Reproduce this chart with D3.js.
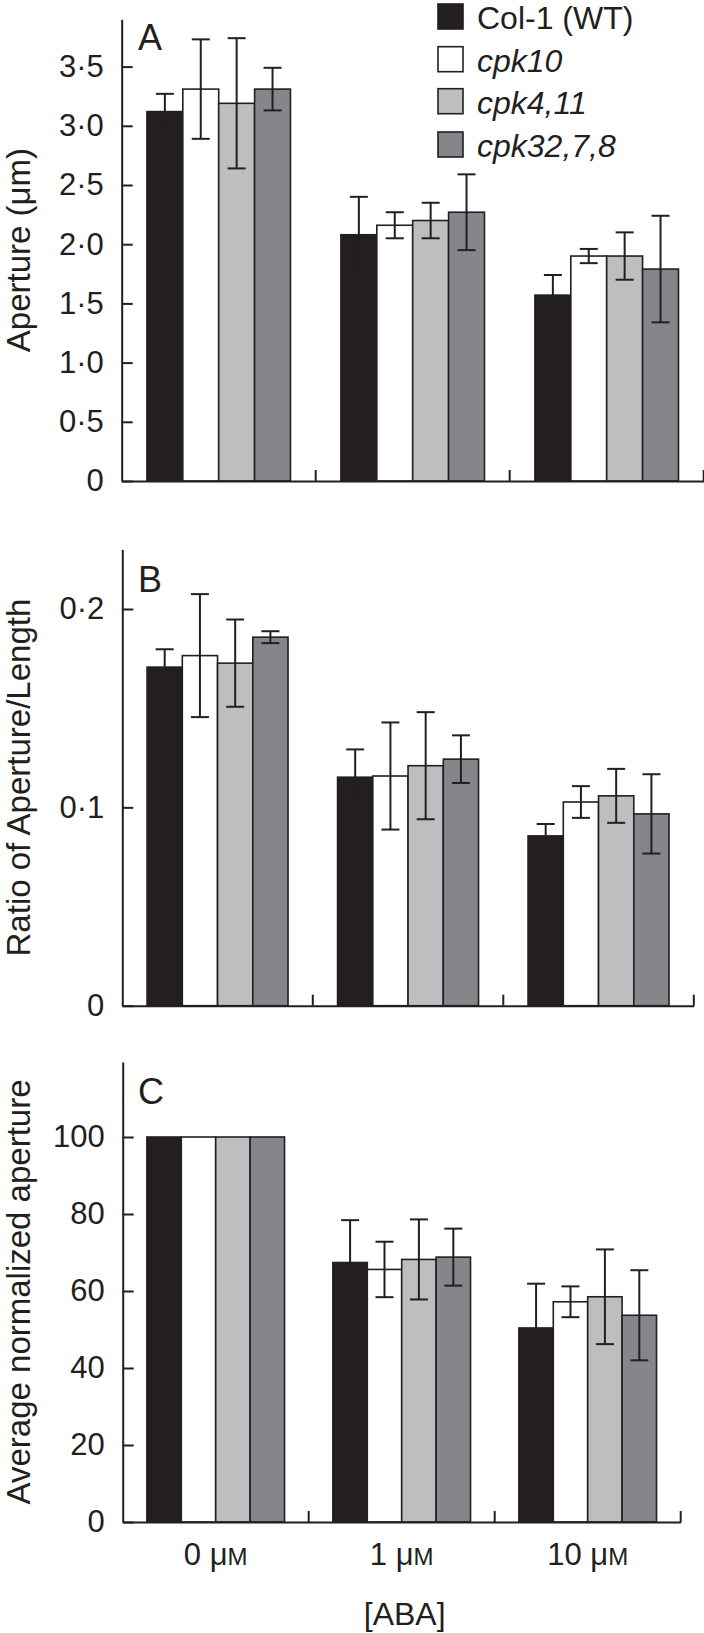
<!DOCTYPE html>
<html>
<head>
<meta charset="utf-8">
<script src="https://cdn.jsdelivr.net/npm/d3@7"></script>
<style>
  html, body { margin: 0; padding: 0; background: #fff; }
  svg { display: block; }
  text { font-family: "Liberation Sans", Arial, Helvetica, sans-serif; fill: #231f20; }
</style>
</head>
<body>
<svg id="chart" width="704" height="1633"></svg>
<script>
// ---------- data ----------
const categories = ["0", "1", "10"];          // [ABA], µM
const series = ["Col-1 (WT)", "cpk10", "cpk4,11", "cpk32,7,8"];
const seriesItalic = [false, true, true, true];
const seriesColors = ["#231f20", "#ffffff", "#bcbec0", "#858689"];

// Panel A: Aperture (µm)
const apertureWT     = [3.12, 2.08, 1.57];
const apertureCpk10  = [3.31, 2.16, 1.90];
const apertureCpk411 = [3.19, 2.20, 1.90];
const apertureCpk32  = [3.31, 2.27, 1.79];
const apertureErrWT     = [0.15, 0.32, 0.17];
const apertureErrCpk10  = [0.42, 0.11, 0.06];
const apertureErrCpk411 = [0.55, 0.15, 0.20];
const apertureErrCpk32  = [0.18, 0.32, 0.45];
const apertureTicks = [0, 0.5, 1.0, 1.5, 2.0, 2.5, 3.0, 3.5];
const apertureTickLabels = ["0", "0·5", "1·0", "1·5", "2·0", "2·5", "3·0", "3·5"];

// Panel B: Ratio of Aperture/Length
const ratioWT     = [0.1707, 0.1152, 0.0856];
const ratioCpk10  = [0.1765, 0.1158, 0.1027];
const ratioCpk411 = [0.1727, 0.1210, 0.1058];
const ratioCpk32  = [0.1858, 0.1243, 0.0967];
const ratioErrWT     = [0.009, 0.014, 0.006];
const ratioErrCpk10  = [0.031, 0.027, 0.008];
const ratioErrCpk411 = [0.022, 0.027, 0.0136];
const ratioErrCpk32  = [0.003, 0.012, 0.020];
const ratioTicks = [0, 0.1, 0.2];
const ratioTickLabels = ["0", "0·1", "0·2"];

// Panel C: Average normalized aperture
const normWT     = [100, 67.4, 50.4];
const normCpk10  = [100, 65.6, 57.2];
const normCpk411 = [100, 68.2, 58.5];
const normCpk32  = [100, 68.8, 53.7];
const normErrWT     = [0, 11.0, 11.5];
const normErrCpk10  = [0, 7.2, 4.0];
const normErrCpk411 = [0, 10.4, 12.3];
const normErrCpk32  = [0, 7.4, 11.7];
const normTicks = [0, 20, 40, 60, 80, 100];
const normTickLabels = ["0", "20", "40", "60", "80", "100"];

// ---------- layout ----------
const INK = "#231f20";
const svg = d3.select("#chart");

const panels = [
  { letter: "A", title: "Aperture (μm)", max: 3.9, y0: 481, pxPerUnit: 118.4,
    xLeft: 121.7, xRight: 703.7,
    values: [apertureWT, apertureCpk10, apertureCpk411, apertureCpk32],
    errs: [apertureErrWT, apertureErrCpk10, apertureErrCpk411, apertureErrCpk32],
    ticks: apertureTicks, tickLabels: apertureTickLabels, letterY: 50, xLabels: false },
  { letter: "B", title: "Ratio of Aperture/Length", max: 0.23, y0: 1005.7, pxPerUnit: 1983.5,
    xLeft: 122.3, xRight: 693.8,
    values: [ratioWT, ratioCpk10, ratioCpk411, ratioCpk32],
    errs: [ratioErrWT, ratioErrCpk10, ratioErrCpk411, ratioErrCpk32],
    ticks: ratioTicks, tickLabels: ratioTickLabels, letterY: 592, xLabels: false },
  { letter: "C", title: "Average normalized aperture", max: 119.5, y0: 1522, pxPerUnit: 3.85,
    xLeft: 122.7, xRight: 680.7,
    values: [normWT, normCpk10, normCpk411, normCpk32],
    errs: [normErrWT, normErrCpk10, normErrCpk411, normErrCpk32],
    ticks: normTicks, tickLabels: normTickLabels, letterY: 1104, xLabels: true }
];

panels.forEach(p => {
  const y = d3.scaleLinear().domain([0, p.max]).range([p.y0, p.y0 - p.max * p.pxPerUnit]);
  const x0 = d3.scaleBand().domain(categories).range([p.xLeft, p.xRight]).padding(0);
  const bw = x0.bandwidth();
  const x1 = d3.scaleBand().domain(series).range([bw * 0.13, bw * 0.87]).padding(0);

  const g = svg.append("g");

  // bars
  categories.forEach((c, ci) => {
    series.forEach((s, si) => {
      const v = p.values[si][ci];
      g.append("rect")
        .attr("x", x0(c) + x1(s))
        .attr("y", y(v))
        .attr("width", x1.bandwidth())
        .attr("height", y(0) - y(v))
        .attr("fill", seriesColors[si])
        .attr("stroke", INK)
        .attr("stroke-width", 1.6);
    });
  });

  // error bars
  categories.forEach((c, ci) => {
    series.forEach((s, si) => {
      const v = p.values[si][ci], e = p.errs[si][ci];
      if (!e) return;
      const cx = x0(c) + x1(s) + x1.bandwidth() / 2;
      const eg = g.append("g").attr("stroke", INK).attr("stroke-width", 2);
      eg.append("line").attr("x1", cx).attr("x2", cx).attr("y1", y(v + e)).attr("y2", y(v - e));
      eg.append("line").attr("x1", cx - 9).attr("x2", cx + 9).attr("y1", y(v + e)).attr("y2", y(v + e));
      eg.append("line").attr("x1", cx - 9).attr("x2", cx + 9).attr("y1", y(v - e)).attr("y2", y(v - e));
    });
  });

  // y axis
  const yAxis = d3.axisLeft(y)
    .tickValues(p.ticks)
    .tickFormat((d, i) => p.tickLabels[i])
    .tickSizeInner(-11)
    .tickSizeOuter(0)
    .tickPadding(18);
  const ya = g.append("g").attr("transform", `translate(${p.xLeft},0)`).call(yAxis);
  ya.select(".domain").attr("stroke", INK).attr("stroke-width", 2);
  ya.selectAll(".tick line").attr("stroke", INK).attr("stroke-width", 2);
  ya.selectAll(".tick text")
    .attr("font-size", 31)
    .attr("fill", INK)
    .style("font-family", '"Liberation Sans", Arial, Helvetica, sans-serif');

  // x axis (baseline) with separator ticks at group boundaries
  const xa = d3.axisBottom(x0).tickSize(0).tickFormat("");
  const xg = g.append("g").attr("transform", `translate(0,${y(0)})`).call(xa);
  xg.select(".domain").attr("stroke", INK).attr("stroke-width", 2);
  xg.selectAll(".tick").remove();
  categories.forEach(c => {
    const sx = x0(c) + bw;
    g.append("line")
      .attr("x1", sx).attr("x2", sx)
      .attr("y1", y(0)).attr("y2", y(0) - 11)
      .attr("stroke", INK).attr("stroke-width", 2);
  });

  // panel letter
  g.append("text")
    .attr("x", 138).attr("y", p.letterY)
    .attr("font-size", 36)
    .text(p.letter);

  // y title
  const midY = (y(0) + y(p.max)) / 2;
  g.append("text")
    .attr("transform", `translate(30,${midY}) rotate(-90)`)
    .attr("text-anchor", "middle")
    .attr("font-size", 33)
    .text(p.title);

  // x category labels
  if (p.xLabels) {
    categories.forEach(c => {
      const t = g.append("text")
        .attr("x", x0(c) + bw / 2)
        .attr("y", y(0) + 43)
        .attr("text-anchor", "middle")
        .attr("font-size", 31);
      t.append("tspan").text(c + " μ");
      t.append("tspan").attr("font-size", 24).text("M");
    });
    svg.append("text")
      .attr("x", x0(categories[1]) + bw / 2 + 3)
      .attr("y", 1625)
      .attr("text-anchor", "middle")
      .attr("font-size", 32)
      .text("[ABA]");
  }
});

// legend
const legend = svg.append("g");
const legendTop = [4, 46.7, 88.7, 132];
series.forEach((s, i) => {
  legend.append("rect")
    .attr("x", 438).attr("y", legendTop[i])
    .attr("width", 25).attr("height", 25)
    .attr("fill", seriesColors[i])
    .attr("stroke", INK).attr("stroke-width", 1.6);
  legend.append("text")
    .attr("x", 477).attr("y", legendTop[i] + 25)
    .attr("font-size", 32)
    .attr("font-style", seriesItalic[i] ? "italic" : "normal")
    .text(s);
});
</script>
</body>
</html>
